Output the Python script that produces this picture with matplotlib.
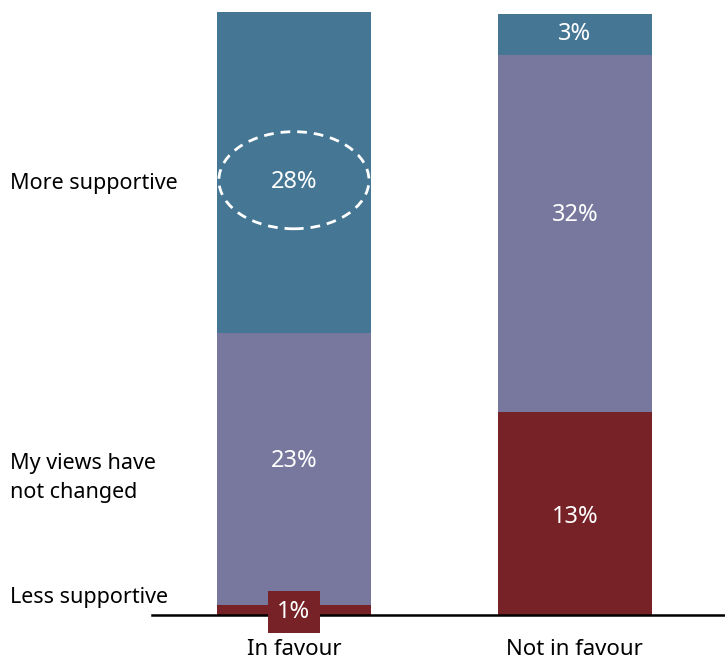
import matplotlib.pyplot as plt
from matplotlib.patches import Ellipse

plt.rcParams['font.family'] = ['Noto Sans', 'DejaVu Sans']

groups = ['In favour', 'Not in favour']
responses = ['Less supportive', 'My views have\nnot changed', 'More supportive']
# segment heights as share of the plotted height
heights = {
    'Less supportive': [1.7, 33.7],
    'My views have\nnot changed': [45.1, 59.2],
    'More supportive': [53.2, 6.8],
}
# printed labels
labels = {
    'Less supportive': ['1%', '13%'],
    'My views have\nnot changed': ['23%', '32%'],
    'More supportive': ['28%', '3%'],
}
label_pos = {
    'Less supportive': [None, 0.48],
    'My views have\nnot changed': [0.53, 0.55],
    'More supportive': [0.47, 0.5],
}
colors = {
    'Less supportive': '#762226',
    'My views have\nnot changed': '#78789e',
    'More supportive': '#457794',
}

fig = plt.figure(figsize=(7.25, 6.64), dpi=100)
ax = fig.add_axes([152 / 725, 49 / 664, 573 / 725, 603 / 664])

x = [0, 1]
width = 0.548
bottom = [0, 0]
for r in responses:
    ax.bar(x, heights[r], width, bottom=bottom, color=colors[r])
    for i in x:
        h = heights[r][i]
        if label_pos[r][i] is not None:
            ax.text(i, bottom[i] + h * label_pos[r][i], labels[r][i], ha='center', va='center',
                    color='white', fontsize=17)
    bottom = [bottom[i] + heights[r][i] for i in x]

# the tiny 1% slice gets its own boxed label
ax.text(0, 0.5, labels['Less supportive'][0], ha='center', va='center', color='white',
        fontsize=17, bbox=dict(boxstyle='square,pad=0.4', fc='#762226', ec='none'),
        zorder=5, clip_on=False)

ax.add_patch(Ellipse((0, 72.1), 0.534, 16.1, fill=False, ec='white', lw=2,
                     ls=(0, (3.5, 2.5)), zorder=4))

ax.set_xlim(-0.505, 1.534)
ax.set_ylim(0, 100)
for s in ['top', 'right', 'left']:
    ax.spines[s].set_visible(False)
ax.spines['bottom'].set_linewidth(1.8)
ax.set_yticks([])
ax.set_xticks(x)
ax.set_xticklabels(groups, fontsize=16)
ax.tick_params(axis='x', length=0, pad=17)

# row labels on the left
fs = 15.5
fig.text(10 / 725, 1 - 183 / 664, 'More supportive', fontsize=fs, va='center')
fig.text(10 / 725, 1 - 478 / 664, 'My views have\nnot changed', fontsize=fs, va='center',
         linespacing=1.55)
fig.text(10 / 725, 1 - 597 / 664, 'Less supportive', fontsize=fs, va='center')

fig.savefig('out.png', dpi=100)
